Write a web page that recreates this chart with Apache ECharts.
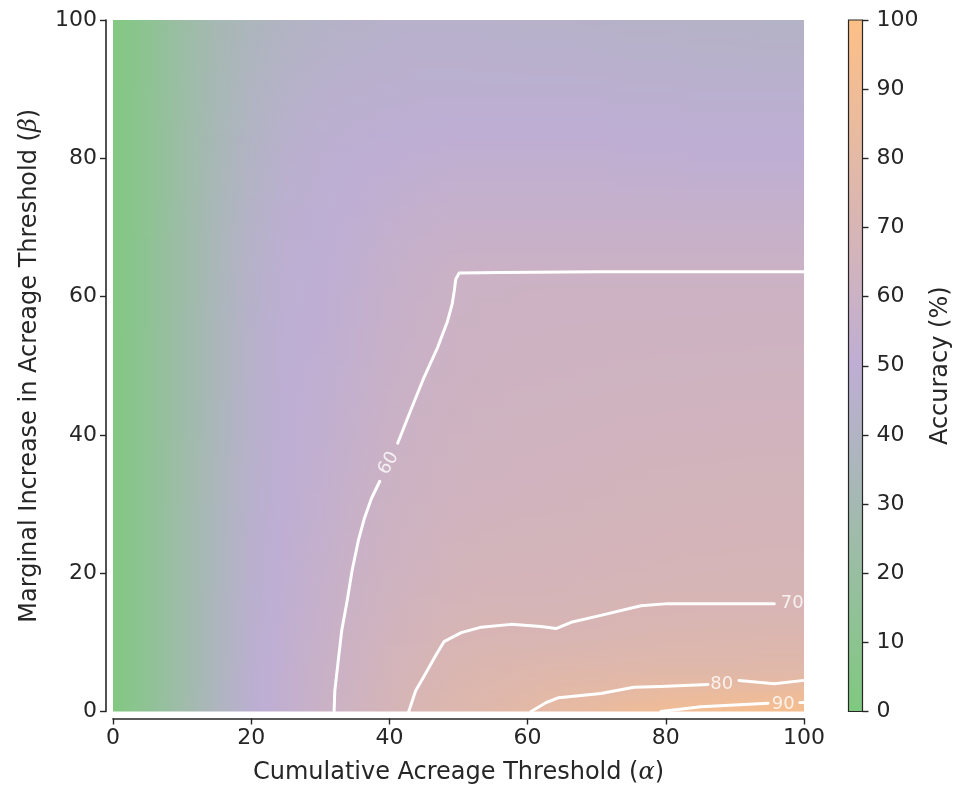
<!DOCTYPE html>
<html>
<head>
<meta charset="utf-8">
<script src="https://cdn.jsdelivr.net/npm/echarts@6/dist/echarts.min.js"></script>
<style>
  html, body { margin: 0; padding: 0; background: #ffffff; }
  #chart { width: 955px; height: 788px; }
</style>
</head>
<body>
<div id="chart"></div>
<script>
// Grid nodes of the accuracy surface
const alphaNodes = [0, 5, 10, 15, 20, 25, 30, 35, 40, 45, 50, 55, 60, 65, 70, 75, 80, 85, 90, 95, 100];
const betaNodes = [0, 1, 2, 3, 4.5, 6, 8, 10, 12, 14, 16, 20, 30, 40, 50, 60, 63, 64, 70, 80, 90, 100];

// Accuracy (%) per beta node (rows), sampled at each alpha node (columns)
const accRow000 = [2, 13, 25, 37, 48, 53.5, 58.5, 63.5, 68, 72, 74.5, 77, 79.5, 82, 84.5, 87.5, 90.3, 91.3, 92.5, 93.5, 94.5];
const accRow010 = [2, 13, 25, 37, 47.9, 53.4, 58.4, 63.3, 67.7, 71.6, 74.2, 76.5, 78.8, 81, 82.7, 85, 87.5, 88.5, 89.5, 90.5, 91.5];
const accRow020 = [2, 13, 25, 36.9, 47.8, 53.3, 58.3, 63.1, 67.5, 71.3, 74, 76, 78, 80, 80.9, 83, 85.3, 86, 87, 87.5, 88.5];
const accRow030 = [2, 13, 25, 36.9, 47.7, 53.2, 58.1, 62.9, 67.2, 70.9, 73.6, 75.3, 77.2, 79, 79.5, 81, 83, 83.5, 84.5, 84.5, 85.5];
const accRow045 = [2, 13, 24.9, 36.8, 47.6, 53.1, 57.9, 62.6, 66.8, 70.3, 73, 74.5, 76, 77.5, 77.8, 79.3, 79.5, 79.5, 79.5, 80, 80.2];
const accRow060 = [2, 13, 24.9, 36.7, 47.4, 52.9, 57.7, 62.3, 66.4, 69.7, 72.4, 73.7, 75, 76, 76.3, 76.8, 77, 77, 77, 77.5, 77.5];
const accRow080 = [2, 13, 24.8, 36.6, 47.2, 52.7, 57.4, 61.9, 65.8, 68.8, 71.5, 72.5, 73, 73.5, 74, 74.6, 75, 75, 75, 75.5, 75.5];
const accRow100 = [2, 13, 24.8, 36.5, 47, 52.5, 57, 61.5, 65.2, 68, 70.6, 71.2, 71.5, 71.7, 72.2, 72.8, 73.3, 73.5, 73.7, 74, 74];
const accRow120 = [2, 13, 24.7, 36.4, 46.8, 52.3, 56.6, 61.1, 64.6, 67.2, 69.6, 70.2, 70.2, 70.1, 70.9, 71.4, 72, 72.2, 72.3, 72.5, 72.5];
const accRow140 = [2, 13, 24.7, 36.3, 46.6, 52.1, 56.2, 60.7, 64, 66.4, 68.7, 69.3, 69.2, 69.2, 69.9, 70.6, 70.9, 71, 71.1, 71.2, 71.2];
const accRow160 = [2, 13, 24.6, 36.2, 46.4, 51.9, 55.8, 60.4, 63.4, 65.6, 67.8, 68.4, 68.4, 68.5, 69, 69.5, 69.8, 69.9, 69.9, 69.9, 69.9];
const accRow200 = [2, 13, 24.6, 36, 46, 51.5, 55.2, 59.6, 62.5, 64.3, 66.3, 66.8, 67, 67.2, 67.6, 68, 68.4, 68.6, 68.7, 68.8, 68.8];
const accRow300 = [2, 12.8, 24.4, 35.6, 45.3, 50.8, 53.8, 57.5, 60.8, 62.5, 64, 64.4, 64.8, 65, 65.4, 65.8, 66.1, 66.3, 66.4, 66.5, 66.5];
const accRow400 = [2, 12.6, 24.2, 35.2, 44.8, 50, 52.5, 55.8, 59.4, 61.1, 62.5, 63, 63.5, 63.7, 64, 64.3, 64.5, 64.6, 64.7, 64.8, 64.8];
const accRow500 = [2, 12.4, 24, 34.8, 44.3, 49.5, 51.5, 54.2, 57.8, 59.7, 61.2, 61.7, 62, 62.2, 62.4, 62.6, 62.7, 62.8, 62.9, 63, 63];
const accRow600 = [2, 12.2, 23.8, 34.4, 43.8, 49, 50.5, 53, 56.2, 58.2, 60.3, 60.6, 60.9, 61, 61, 61, 61, 61, 61, 61, 61];
const accRow630 = [2, 12.2, 23.7, 34.3, 43.6, 48.8, 50.2, 52.6, 55.7, 57.7, 60.05, 60.2, 60.3, 60.3, 60.3, 60.3, 60.3, 60.3, 60.3, 60.3, 60.3];
const accRow640 = [2, 12.2, 23.7, 34.2, 43.5, 48.7, 50.1, 52.4, 55.5, 57.4, 59.3, 59.5, 59.5, 59.5, 59.5, 59.5, 59.5, 59.5, 59.5, 59.5, 59.5];
const accRow700 = [2, 12, 23.4, 33.8, 42.6, 47.8, 49.4, 51.5, 53.8, 55.5, 56.5, 56.5, 56.5, 56.5, 56.5, 56.5, 56.5, 56.5, 56.5, 56.5, 56.5];
const accRow800 = [2, 11.8, 22.8, 32.8, 40.5, 46, 48.2, 49.8, 50.5, 51.5, 52, 52, 52, 52, 52, 51.5, 51.5, 51, 51, 51, 51];
const accRow900 = [2, 11.5, 22.5, 31.8, 38.5, 43, 45.5, 46.5, 47, 47.5, 47.5, 47.5, 47.5, 47.5, 47.5, 47, 47, 46.5, 46.5, 46.5, 46.5];
const accRow1000 = [2, 11, 22, 30.5, 36, 39.5, 42, 43.5, 44.5, 45, 45, 44.5, 44, 44, 43.5, 43, 43, 42.5, 42.5, 42, 42];

const accuracyRows = [accRow000, accRow010, accRow020, accRow030, accRow045, accRow060, accRow080,
  accRow100, accRow120, accRow140, accRow160, accRow200, accRow300, accRow400, accRow500, accRow600,
  accRow630, accRow640, accRow700, accRow800, accRow900, accRow1000];

// Contour paths [alpha, beta], split where the inline label sits
const contour60a = [[32.0, 0], [32.1, 3], [32.6, 7.4], [33.1, 11.7], [33.9, 16.1], [34.6, 20.4], [35.5, 24.7], [36.4, 28.0], [37.4, 30.8], [38.6, 33.3]];
const contour60b = [[41.2, 38.8], [43.1, 43.6], [45.0, 48.3], [47.0, 52.7], [48.4, 56.4], [49.1, 59.0], [49.4, 60.9], [49.6, 62.5], [50.1, 63.4], [56.2, 63.5], [70, 63.6], [85, 63.6], [100, 63.6]];
const contour70 = [[42.8, 0], [43.8, 3], [45.3, 5.6], [46.7, 8.1], [47.9, 10.1], [50.4, 11.4], [53.3, 12.2], [57.6, 12.6], [61.9, 12.3], [64.1, 12.0], [66.3, 12.9], [70.6, 13.9], [76.4, 15.3], [80.3, 15.6], [95.7, 15.6]];
const contour80a = [[60.5, 0], [62.7, 1.3], [64.5, 2.0], [70.6, 2.6], [75.4, 3.5], [79.3, 3.6], [86.1, 3.9]];
const contour80b = [[90.6, 4.5], [95.7, 4.0], [100, 4.5]];
const contour90a = [[79.3, 0], [85.1, 0.7], [94.8, 1.2]];
const contour90b = [[99.4, 1.3], [100, 1.3]];

// Inline contour labels: [alpha, beta, level, rotation]
const contourLabels = [[39.9, 35.9, '60', 60], [98.3, 15.6, '70', 0], [88.1, 4.0, '80', 0], [97.0, 1.0, '90', 0]];

// Axis ticks
const mainTicks = [0, 20, 40, 60, 80, 100];
const colorbarTicks = [0, 10, 20, 30, 40, 50, 60, 70, 80, 90, 100];

// Colormap: green -> purple -> orange
const cmapStops = [[127, 201, 127], [190, 174, 212], [253, 192, 134]];
function cmap(v) {
  const t = Math.max(0, Math.min(1, v / 100));
  const seg = t <= 0.5 ? 0 : 1;
  const f = seg === 0 ? t / 0.5 : (t - 0.5) / 0.5;
  const a = cmapStops[seg], b = cmapStops[seg + 1];
  const c = a.map((x, k) => Math.round(x + (b[k] - x) * f));
  return 'rgb(' + c.join(',') + ')';
}
function gradientStops(vl, vr) {
  const stops = [{ offset: 0, color: cmap(vl) }];
  if ((vl - 50) * (vr - 50) < 0) {
    stops.push({ offset: (50 - vl) / (vr - vl), color: cmap(50) });
  }
  stops.push({ offset: 1, color: cmap(vr) });
  return stops;
}

const cellData = [];
for (let j = 0; j < betaNodes.length - 1; j++) {
  for (let i = 0; i < alphaNodes.length - 1; i++) {
    cellData.push([alphaNodes[i], betaNodes[j], i, j]);
  }
}

// Each cell is shaded in thin horizontal slices, each slice a left-to-right gradient
function renderCell(params, api) {
  const i = api.value(2), j = api.value(3);
  const pTL = api.coord([alphaNodes[i], betaNodes[j + 1]]);
  const pBR = api.coord([alphaNodes[i + 1], betaNodes[j]]);
  const x0 = Math.round(pTL[0]), x1 = Math.round(pBR[0]);
  const yTop = pTL[1], yBot = pBR[1];
  const h = yBot - yTop;
  const n = Math.max(1, Math.ceil(h / 3));
  const children = [];
  for (let k = 0; k < n; k++) {
    const sy1 = Math.round(yBot - h * k / n);
    const sy0 = Math.round(yBot - h * (k + 1) / n);
    if (sy1 <= sy0) continue;
    const fMid = (k + 0.5) / n;
    const vl = accuracyRows[j][i] + (accuracyRows[j + 1][i] - accuracyRows[j][i]) * fMid;
    const vr = accuracyRows[j][i + 1] + (accuracyRows[j + 1][i + 1] - accuracyRows[j][i + 1]) * fMid;
    children.push({
      type: 'rect',
      shape: { x: x0, y: sy0, width: x1 - x0, height: sy1 - sy0 },
      style: { fill: new echarts.graphic.LinearGradient(0, 0, 1, 0, gradientStops(vl, vr)) },
      silent: true
    });
  }
  return { type: 'group', children: children };
}

function lineSeries(data) {
  return {
    type: 'line', xAxisIndex: 0, yAxisIndex: 0, data: data,
    showSymbol: false, symbol: 'none', smooth: false, z: 5,
    lineStyle: { color: '#ffffff', width: 3, cap: 'round', join: 'round' },
    silent: true
  };
}

const FONT = 'DejaVu Sans';
const ink = '#262626';

const chart = echarts.init(document.getElementById('chart'), null, { renderer: 'canvas' });
chart.setOption({
  animation: false,
  backgroundColor: '#ffffff',
  textStyle: { fontFamily: FONT, color: ink },
  grid: [
    { left: 113, top: 20, width: 691, height: 691.5, containLabel: false, outerBoundsMode: 'none' },
    { left: 848.5, top: 20, width: 14, height: 691.5, containLabel: false, outerBoundsMode: 'none' }
  ],
  xAxis: [
    {
      type: 'value', gridIndex: 0, min: 0, max: 100, interval: 20, offset: 7,
      name: 'Cumulative Acreage Threshold ({g|α})', nameLocation: 'middle', nameGap: 42,
      nameTextStyle: { fontFamily: FONT, fontSize: 24, color: ink,
        rich: { g: { fontFamily: 'DejaVu Serif', fontStyle: 'italic', fontSize: 24, color: ink } } },
      axisLine: { show: true, onZero: false, lineStyle: { color: ink, width: 1.6 } },
      axisTick: { show: true, length: 6, lineStyle: { color: ink, width: 1.4 } },
      axisLabel: { fontFamily: FONT, fontSize: 22, color: ink, margin: 9,
        formatter: v => (mainTicks.indexOf(v) >= 0 ? String(v) : '') },
      splitLine: { show: false }
    },
    { type: 'value', gridIndex: 1, min: 0, max: 1, show: false }
  ],
  yAxis: [
    {
      type: 'value', gridIndex: 0, min: 0, max: 100, interval: 20, offset: 7,
      name: 'Marginal Increase in Acreage Threshold ({g|β})', nameLocation: 'middle', nameGap: 64, nameRotate: 90,
      nameTextStyle: { fontFamily: FONT, fontSize: 24, color: ink,
        rich: { g: { fontFamily: 'DejaVu Serif', fontStyle: 'italic', fontSize: 24, color: ink } } },
      axisLine: { show: true, onZero: false, lineStyle: { color: ink, width: 1.6 } },
      axisTick: { show: true, length: 6, lineStyle: { color: ink, width: 1.4 } },
      axisLabel: { fontFamily: FONT, fontSize: 22, color: ink, margin: 9,
        formatter: v => (mainTicks.indexOf(v) >= 0 ? String(v) : '') },
      splitLine: { show: false }
    },
    {
      type: 'value', gridIndex: 1, min: 0, max: 100, interval: 10, position: 'right',
      name: 'Accuracy (%)', nameLocation: 'middle', nameGap: 66, nameRotate: 90,
      nameTextStyle: { fontFamily: FONT, fontSize: 24, color: ink },
      axisLine: { show: false, onZero: false },
      axisTick: { show: true, length: 6, lineStyle: { color: ink, width: 1.4 } },
      axisLabel: { fontFamily: FONT, fontSize: 22, color: ink, margin: 14,
        formatter: v => (colorbarTicks.indexOf(v) >= 0 ? String(v) : '') },
      splitLine: { show: false }
    }
  ],
  series: [
    {
      type: 'custom', xAxisIndex: 0, yAxisIndex: 0, data: cellData,
      encode: { x: 0, y: 1 }, renderItem: renderCell, clip: true, z: 1, silent: true
    },
    lineSeries(contour60a), lineSeries(contour60b), lineSeries(contour70),
    lineSeries(contour80a), lineSeries(contour80b), lineSeries(contour90a), lineSeries(contour90b),
    {
      type: 'scatter', xAxisIndex: 0, yAxisIndex: 0, symbolSize: 0, z: 6, silent: true,
      data: contourLabels.map(d => ({
        value: [d[0], d[1], d[2]],
        label: { show: true, position: 'inside', rotate: d[3], formatter: d[2],
          fontFamily: FONT, fontSize: 18, color: '#ffffff' }
      }))
    },
    {
      type: 'custom', xAxisIndex: 1, yAxisIndex: 1, data: [[0, 0]], z: 2, silent: true,
      renderItem: function (params, api) {
        const pTop = api.coord([0, 100]);
        const pBot = api.coord([1, 0]);
        return {
          type: 'rect',
          shape: { x: pTop[0], y: pTop[1], width: pBot[0] - pTop[0], height: pBot[1] - pTop[1] },
          style: {
            fill: new echarts.graphic.LinearGradient(0, 0, 0, 1, [
              { offset: 0, color: cmap(100) }, { offset: 0.5, color: cmap(50) }, { offset: 1, color: cmap(0) }
            ]),
            stroke: ink, lineWidth: 1.2
          }
        };
      }
    }
  ]
});
</script>
</body>
</html>
